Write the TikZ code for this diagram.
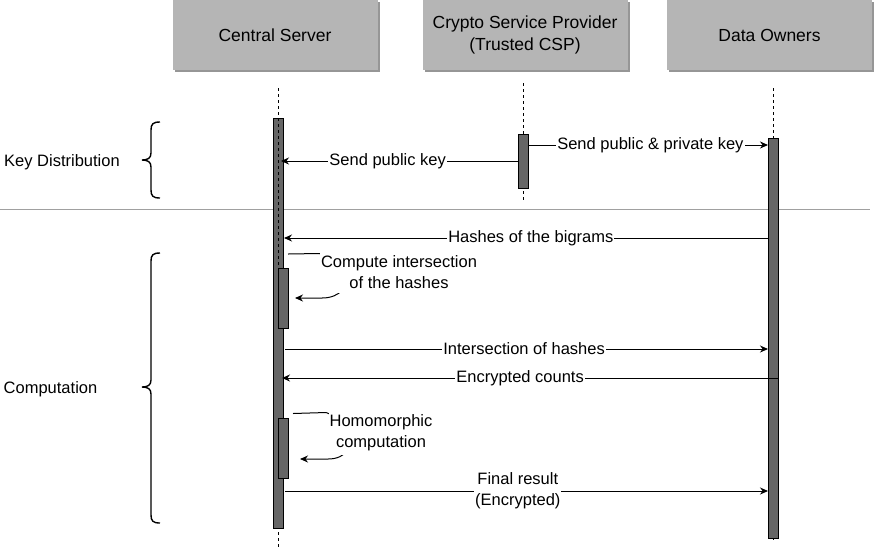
\documentclass[tikz,border=0pt]{standalone}
\usepackage{fontspec}
\setmainfont{Liberation Sans}
\usetikzlibrary{arrows.meta}
\definecolor{hdr}{RGB}{181,181,181}
\definecolor{hdrshadow}{RGB}{150,150,150}
\definecolor{barfill}{RGB}{102,102,102}
\definecolor{sepgray}{RGB}{160,160,160}
\tikzset{
  header/.style={fill=hdr, minimum width=205pt, minimum height=70pt, inner sep=0pt, outer sep=0pt, font=\fontsize{17.5}{22}\selectfont, align=center},
  shadowbox/.style={fill=hdrshadow, minimum width=205pt, minimum height=70pt, inner sep=0pt, outer sep=0pt},
  lifeline/.style={draw=black, line width=0.8pt, dash pattern=on 3pt off 3pt},
  actbar/.style={draw=black, fill=barfill, line width=1pt, minimum width=10.5pt, inner sep=0pt, outer sep=0pt, anchor=north},
  msg/.style={draw=black, line width=1pt, -{Stealth[length=8pt,width=7pt]}},
  lbl/.style={fill=white, inner sep=1pt, font=\fontsize{16.5}{21}\selectfont, align=center},
  selflbl/.style={lbl, inner xsep=1pt, inner ysep=4pt},
  sidelbl/.style={inner sep=0pt, font=\fontsize{16.5}{21}\selectfont},
  brace/.style={draw=black, line width=1.4pt},
  sepline/.style={draw=sepgray, line width=1pt},
}
\begin{document}
\begin{tikzpicture}[x=1pt,y=-1pt]
\useasboundingbox (0,0) rectangle (874,550);
% header shadows and boxes
\node[shadowbox] (csS) at (277,37) {};
\node[shadowbox] (cspS) at (527,37) {};
\node[shadowbox] (doS) at (771.5,37) {};
\node[header] (cs) at (275,35) {Central Server};
\node[header] (csp) at (525,35) {Crypto Service Provider\\(Trusted CSP)};
\node[header] (do) at (769.5,35) {Data Owners};
% lifelines
\coordinate (csTop) at (278.5,88);
\coordinate (csBot) at (278.5,548);
\coordinate (cspTop) at (523,83);
\coordinate (cspBot) at (523,200);
\coordinate (doTop) at (773,88);
\coordinate (doBot) at (773,540);
\draw[lifeline] (csTop) -- (csBot);
\draw[lifeline] (cspTop) -- (cspBot);
\draw[lifeline] (doTop) -- (doBot);
% separator
\coordinate (sepL) at (0,209);
\coordinate (sepR) at (870,209);
\draw[sepline] (sepL) -- (sepR);
% activation bars
\node[actbar, minimum height=410pt] (b1) at (278.5,118) {};
\node[actbar, minimum width=10pt, minimum height=54pt] (b2) at (523,134) {};
\node[actbar, minimum width=10pt, minimum height=400pt] (b3) at (773,138) {};
\node[actbar, minimum height=60pt] (b4) at (283.5,268) {};
\node[actbar, minimum height=60pt] (b5) at (283.5,418) {};
\coordinate (csDashA) at (278.5,118);
\coordinate (csDashB) at (278.5,268);
\draw[lifeline] (csDashA) -- (csDashB);
% messages
\coordinate (m1s) at (528,145); \coordinate (m1e) at (768,145);
\draw[msg] (m1s) -- node[lbl, pos=0.51] (l1) {Send public \& private key} (m1e);
\coordinate (m2s) at (518,161); \coordinate (m2e) at (281,161);
\draw[msg] (m2s) -- node[lbl, pos=0.55] (l2) {Send public key} (m2e);
\coordinate (m3s) at (768,238); \coordinate (m3e) at (284,238);
\draw[msg] (m3s) -- node[lbl, pos=0.49] (l3) {Hashes of the bigrams} (m3e);
\coordinate (m4s) at (285,349); \coordinate (m4e) at (768,349);
\draw[msg] (m4s) -- node[lbl, pos=0.495] (l4) {Intersection of hashes} (m4e);
\coordinate (m5s) at (778,378); \coordinate (m5e) at (282,378);
\draw[msg] (m5s) -- node[lbl, pos=0.52] (l5) {Encrypted counts} (m5e);
\coordinate (m6s) at (285,491); \coordinate (m6e) at (768,491);
\draw[msg] (m6s) -- node[lbl, pos=0.482] (l6) {Final result\\(Encrypted)} (m6e);
% self messages
\coordinate (s1s) at (288,254); \coordinate (s1e) at (295,298);
\draw[msg] (s1s) -- (319,253.5) -- (355,262) -- (355,280) .. controls (345,284) and (342,298) .. (322,298) -- (s1e);
\node[selflbl] (l7) at (399,272.5) {Compute intersection\\of the hashes};
\coordinate (s2s) at (293,413.5); \coordinate (s2e) at (300,459);
\draw[msg] (s2s) -- (326,412.5) -- (355,424) -- (355,440) .. controls (350,444) and (348,459) .. (328,459) -- (s2e);
\node[selflbl] (l8) at (381,432.5) {Homomorphic\\computation};
% braces
\draw[brace] (160,122) .. controls (153,122) and (151,124) .. (151,130) -- (151,153)
  .. controls (151,158) and (148,160) .. (142,160) .. controls (148,160) and (151,162) .. (151,167)
  -- (151,190) .. controls (151,196) and (153,198) .. (160,198);
\draw[brace] (160,253) .. controls (153,253) and (151,255) .. (151,261) -- (151,380)
  .. controls (151,385) and (148,387) .. (142,387) .. controls (148,387) and (151,389) .. (151,394)
  -- (151,515) .. controls (151,521) and (153,523) .. (160,523);
\node[sidelbl] (kd) at (62,162) {Key Distribution};
\node[sidelbl] (cp) at (50.5,389) {Computation};
\end{tikzpicture}
\end{document}
